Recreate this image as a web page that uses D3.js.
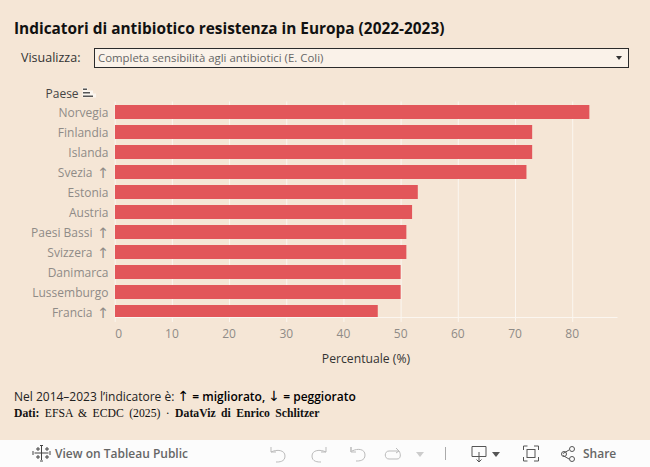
<!DOCTYPE html>
<html>
<head>
<meta charset="utf-8">
<script src="https://cdn.jsdelivr.net/npm/d3@7"></script>
<style>
  html, body { margin: 0; padding: 0; background: #f5e6d6; }
  svg { display: block; font-family: "Open Sans", sans-serif; }
</style>
</head>
<body>
<div id="chart"></div>
<script>
// data
var paesi = ["Norvegia", "Finlandia", "Islanda", "Svezia", "Estonia", "Austria", "Paesi Bassi", "Svizzera", "Danimarca", "Lussemburgo", "Francia"];
var valori = [83, 73, 73, 72, 53, 52, 51, 51, 50, 50, 46];
var frecce = ["", "", "", "↑", "", "", "↑", "↑", "", "", "↑"];
var xTicks = [0, 10, 20, 30, 40, 50, 60, 70, 80];

var svgWidth = 650;
var svgHeight = 467;

var svg = d3.select("#chart")
  .append("svg")
  .attr("width", svgWidth)
  .attr("height", svgHeight);

svg.append("rect")
  .attr("width", svgWidth)
  .attr("height", svgHeight)
  .attr("fill", "#f5e6d6");

// scales
var x = d3.scaleLinear().domain([0, 80]).range([114.7, 572.2]);
var y = d3.scaleBand().domain(paesi).range([102, 322]).paddingInner(0.3).paddingOuter(0.15);

// title
svg.append("text")
  .attr("x", 14).attr("y", 34)
  .attr("font-size", 15.4).attr("font-weight", 700).attr("fill", "#111")
  .text("Indicatori di antibiotico resistenza in Europa (2022-2023)");

// filter
svg.append("text")
  .attr("x", 21).attr("y", 62)
  .attr("font-size", 12.5).attr("fill", "#333")
  .text("Visualizza:");
svg.append("rect")
  .attr("x", 94.5).attr("y", 48.5).attr("width", 534).attr("height", 19)
  .attr("fill", "#faf2e9").attr("stroke", "#2b2b2b").attr("stroke-width", 1);
svg.append("text")
  .attr("x", 98).attr("y", 62)
  .attr("font-size", 11.4).attr("fill", "#666")
  .text("Completa sensibilità agli antibiotici (E. Coli)");
svg.append("path")
  .attr("d", "M616 56h6l-3 4z")
  .attr("fill", "#333");

// axis + grid
var xAxis = d3.axisBottom(x)
  .tickValues(xTicks)
  .tickSize(0)
  .tickPadding(0);

var axisG = svg.append("g")
  .attr("transform", "translate(0,317.5)")
  .call(xAxis);
axisG.select(".domain").remove();
axisG.selectAll(".tick line")
  .attr("y1", -216)
  .attr("y2", 4.5)
  .attr("stroke", "#fbf6f0")
  .attr("stroke-width", 1);
axisG.selectAll(".tick text")
  .attr("y", 20)
  .attr("dy", 0)
  .attr("dx", d => d === 0 ? 3.5 : -0.5)
  .attr("font-family", "'Open Sans', sans-serif")
  .attr("font-size", 12)
  .attr("fill", "#8f8b87");
svg.append("line")
  .attr("x1", 115).attr("x2", 617.5)
  .attr("y1", 317.5).attr("y2", 317.5)
  .attr("stroke", "#fbf6f0");

// bars, the last row is cut by the axis
svg.append("clipPath").attr("id", "plot")
  .append("rect").attr("x", 115).attr("y", 100).attr("width", 510).attr("height", 217);

svg.append("g")
  .attr("clip-path", "url(#plot)")
  .selectAll("rect")
  .data(paesi)
  .enter()
  .append("rect")
  .attr("x", 115)
  .attr("y", d => y(d))
  .attr("width", (d, i) => x(valori[i]) - 115)
  .attr("height", y.bandwidth())
  .attr("fill", "#e2565a");

// country labels
svg.append("g")
  .selectAll("text")
  .data(paesi)
  .enter()
  .append("text")
  .attr("x", (d, i) => frecce[i] ? 92.5 : 108.5)
  .attr("y", d => y(d) + y.bandwidth() / 2 + 4.5)
  .attr("text-anchor", "end")
  .attr("font-size", 12)
  .attr("fill", "#8f8b87")
  .text(d => d);

// arrows after the labels
svg.append("g")
  .selectAll("text")
  .data(paesi.filter((d, i) => frecce[i]))
  .enter()
  .append("text")
  .attr("x", 109)
  .attr("y", d => y(d) + y.bandwidth() / 2 + 5.5)
  .attr("text-anchor", "end")
  .attr("font-family", "'DejaVu Sans', sans-serif")
  .attr("font-size", 14.5)
  .attr("fill", "#8f8b87")
  .text("↑");

// field header with sort icon
svg.append("text")
  .attr("x", 45.5).attr("y", 98)
  .attr("font-size", 12).attr("fill", "#444")
  .text("Paese");
svg.append("path")
  .attr("d", "M82.500 87.500h5v3h5.500v3h3v4h-13.500z")
  .attr("fill", "#fbf6f0");
svg.append("path")
  .attr("d", "M83 88.500h4v1.500h-4zM83 92h7v1.500h-7zM83 95.500h10v1.500h-10z")
  .attr("fill", "#555");

// x title
svg.append("text")
  .attr("x", 366).attr("y", 363)
  .attr("text-anchor", "middle")
  .attr("font-size", 12.2).attr("fill", "#333")
  .text("Percentuale (%)");

// notes
var nota = svg.append("text")
  .attr("x", 14).attr("y", 401)
  .attr("font-size", 12).attr("fill", "#222");
nota.append("tspan").text("Nel 2014–2023 l’indicatore è: ");
nota.append("tspan").attr("font-family", "'DejaVu Sans', sans-serif").attr("font-size", 14).attr("fill", "#000").text("↑");
nota.append("tspan").attr("font-weight", 600).attr("fill", "#000").text(" = migliorato, ");
nota.append("tspan").attr("font-family", "'DejaVu Sans', sans-serif").attr("font-size", 14).attr("fill", "#000").text("↓");
nota.append("tspan").attr("font-weight", 600).attr("fill", "#000").text(" = peggiorato");

var fonte = svg.append("text")
  .attr("x", 14).attr("y", 417)
  .attr("font-family", "'Liberation Serif', serif")
  .attr("font-size", 11.7).attr("fill", "#111")
  .attr("word-spacing", 2.5);
fonte.append("tspan").attr("font-weight", 700).text("Dati:");
fonte.append("tspan").text(" EFSA & ECDC (2025) · ");
fonte.append("tspan").attr("font-weight", 700).text("DataViz di Enrico Schlitzer");

// tableau toolbar
var bar = svg.append("g");
bar.append("rect").attr("x", 0).attr("y", 440).attr("width", 650).attr("height", 27).attr("fill", "#fcfcfc");
bar.append("text").attr("x", 55).attr("y", 458).attr("font-size", 12).attr("font-weight", 600).attr("fill", "#666").text("View on Tableau Public");
bar.append("text").attr("x", 583).attr("y", 458).attr("font-size", 12).attr("font-weight", 600).attr("fill", "#666").text("Share");

// tableau logo
bar.append("path")
  .attr("d", "M41.500 446v14M34.500 453h14M36 449h4M38 447v4M45 449h4M47 447v4M36 457h4M38 455v4M45 457h4M47 455v4M33 451v4M50 451v4M40 445.500h3M40 461h3")
  .attr("fill", "none").attr("stroke", "#444").attr("stroke-width", 1);

// greyed undo, redo, revert, refresh
var icons = bar.append("g").attr("fill", "none").attr("stroke", "#bbb").attr("stroke-width", 1);
icons.append("path").attr("d", "M271 447v5h5M271 452c6-3 14-2 14 4s-6 6-9 6");
icons.append("path").attr("d", "M326 447v5h-5M326 452c-6-3-14-2-14 4s6 6 9 6");
icons.append("path").attr("d", "M351 447v5h5M351 447l0 5M352 451c6-3 13-2 13 4s-6 6-9 6");
icons.append("path").attr("d", "M399 451h-10c-5 0-5 8 0 8h8c4 0 4-5 2-8M396 448l3 3-3 2");
bar.append("path").attr("d", "M416 452h8l-4 5z").attr("fill", "#ccc");
bar.append("line").attr("x1", 445.5).attr("x2", 445.5).attr("y1", 447).attr("y2", 460).attr("stroke", "#aaa");

// download, fullscreen and share icons
var dark = bar.append("g").attr("fill", "none").attr("stroke", "#555").attr("stroke-width", 1);
dark.append("path").attr("d", "M472 446.500h14v10h-14zM479 452v9M476.500 459.500l2.500 2.500 2.500-2.500");
bar.append("path").attr("d", "M492 452h8l-4 5z").attr("fill", "#555");
dark.append("rect").attr("x", 527).attr("y", 449.500).attr("width", 8).attr("height", 8);
dark.append("path").attr("d", "M523.500 450v-4h4M534 446h4.500v4M538.500 457v4h-4.500M527.500 461h-4v-4");
dark.append("path").attr("d", "M569 450l-6 3.500M563 455.500l6 3.500");
dark.append("circle").attr("cx", 564).attr("cy", 454).attr("r", 2.500);
dark.append("circle").attr("cx", 572).attr("cy", 449).attr("r", 2.500);
dark.append("circle").attr("cx", 572).attr("cy", 459).attr("r", 2.500);
</script>
</body>
</html>
